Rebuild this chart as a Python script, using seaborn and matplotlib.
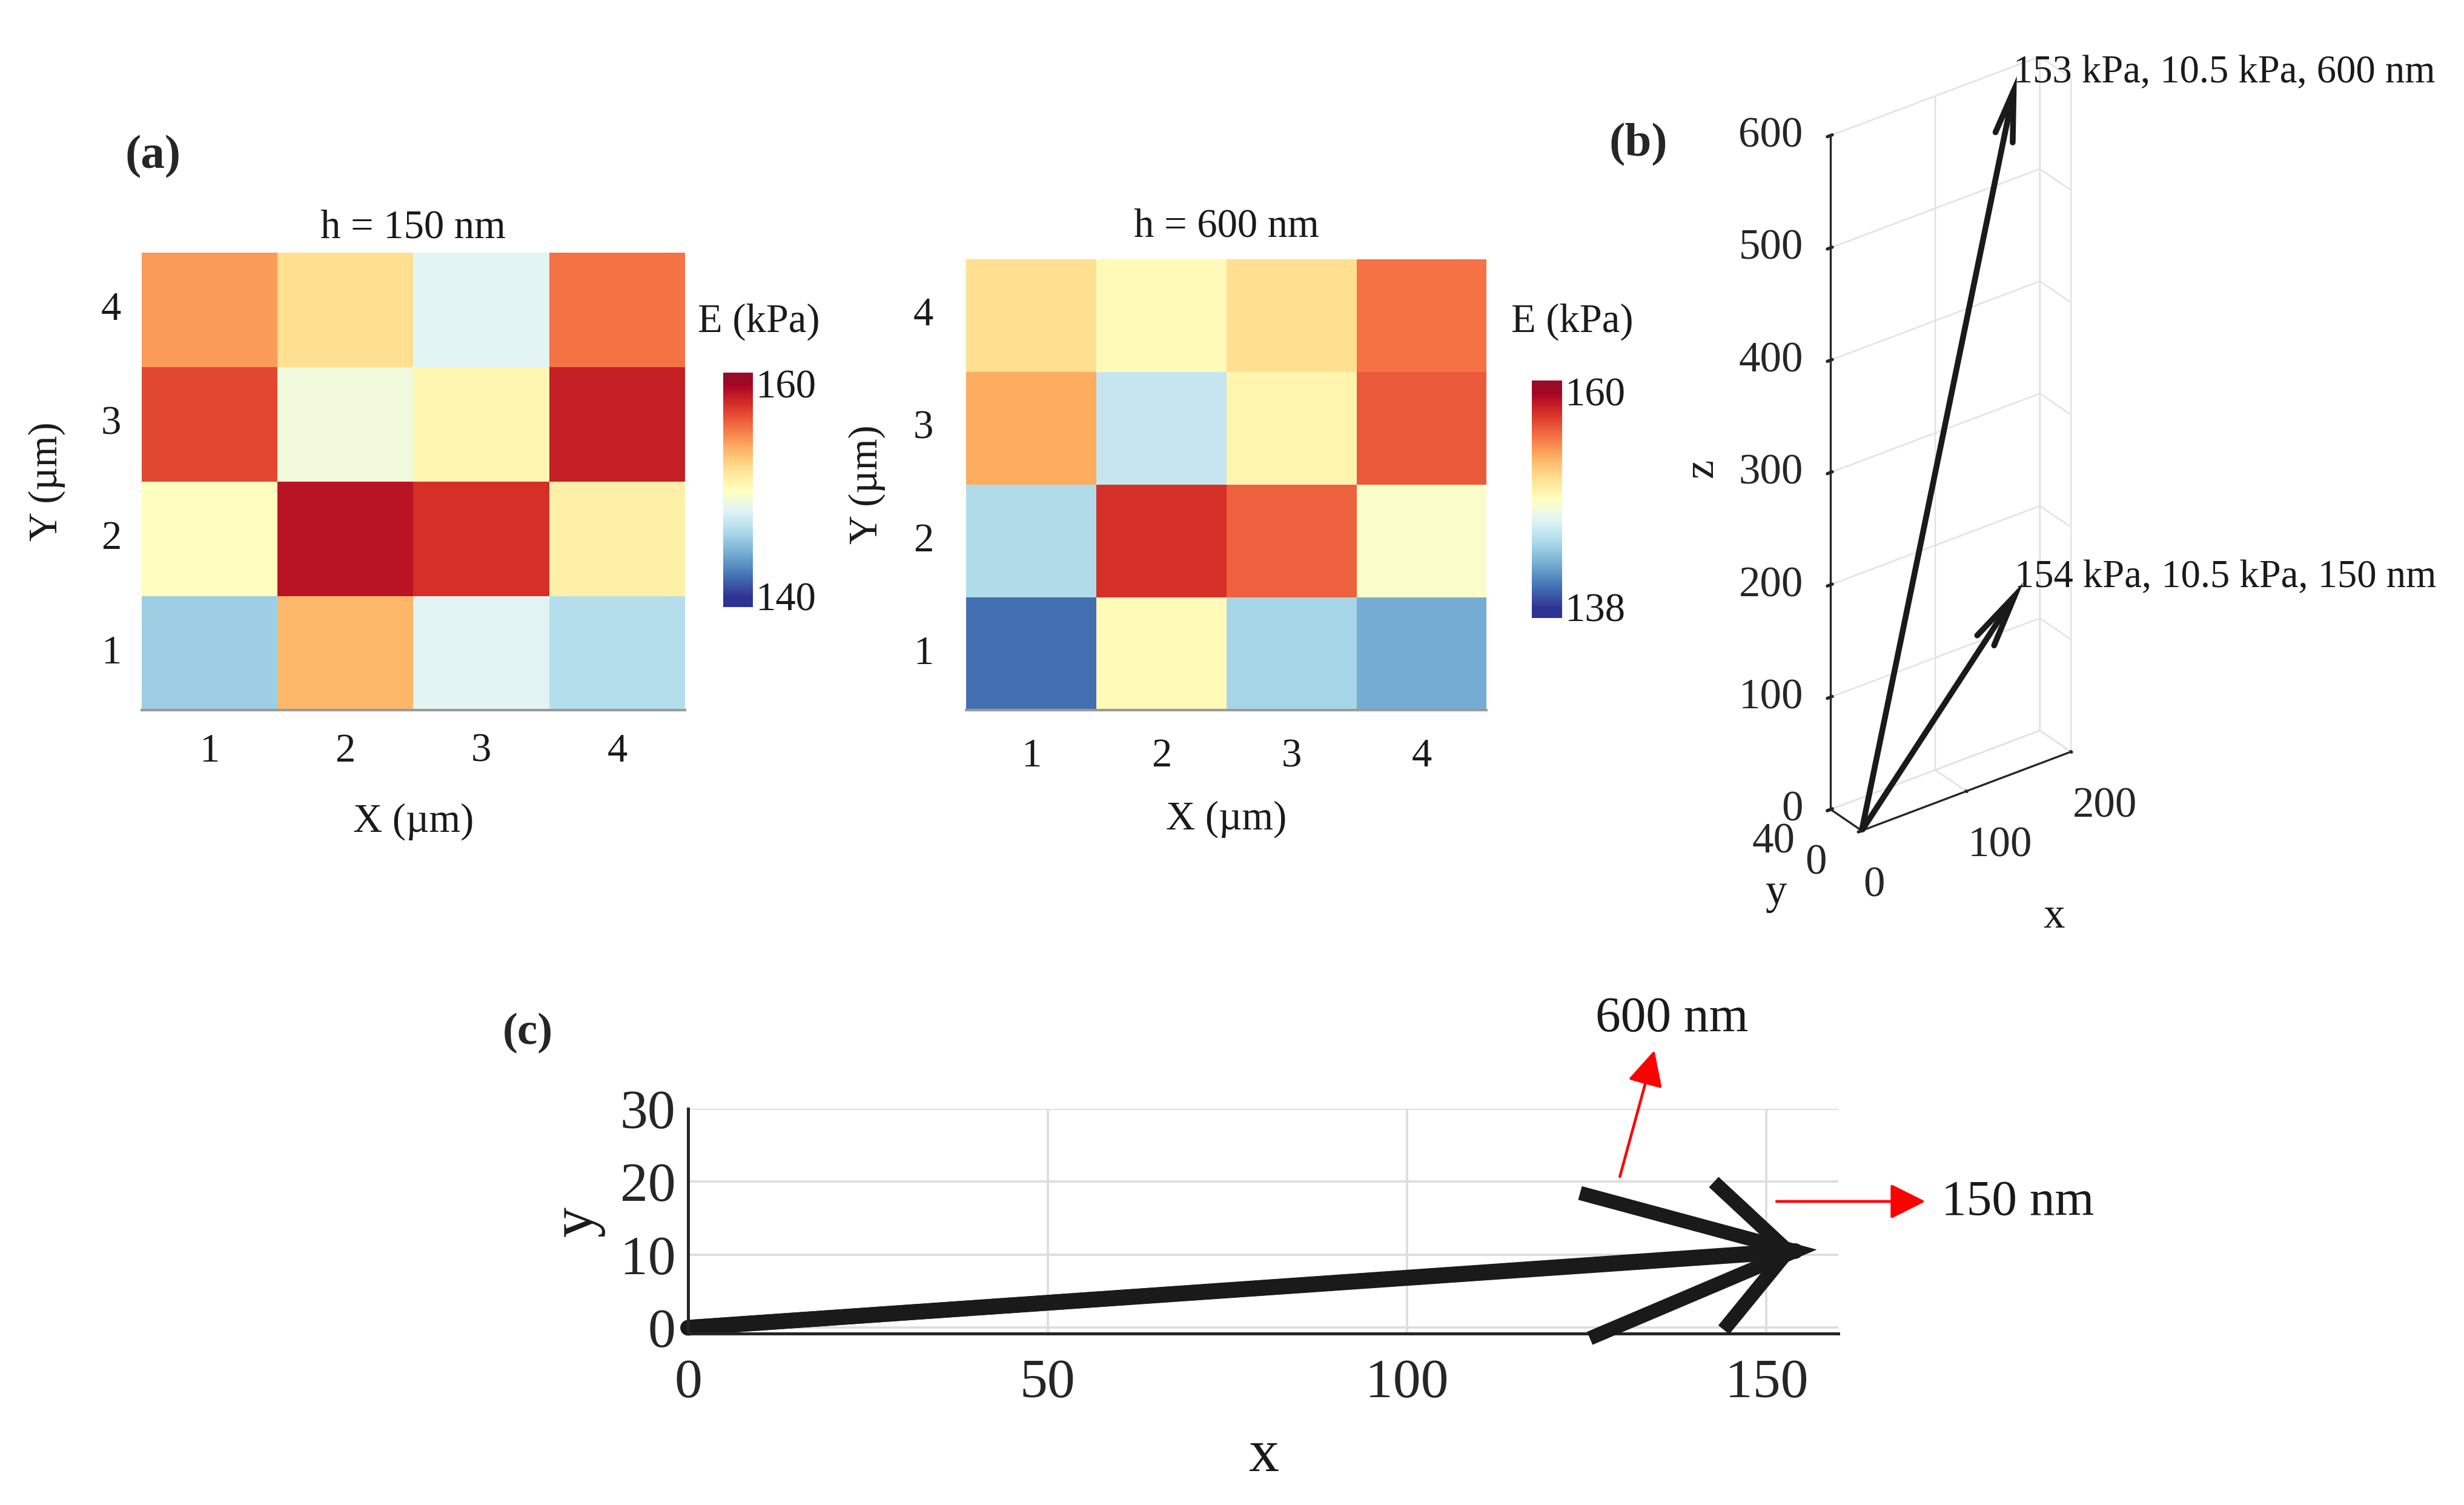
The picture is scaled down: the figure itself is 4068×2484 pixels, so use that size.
import warnings
import numpy as np
import pandas as pd
import matplotlib
matplotlib.use("Agg")
import matplotlib.pyplot as plt
import seaborn as sns
from mpl_toolkits.mplot3d import proj3d

warnings.filterwarnings("ignore")

# ---------------- data ----------------
x_labels = [1, 2, 3, 4]
y_labels = [4, 3, 2, 1]          # top row first
E_150 = [[154.6, 152.0, 148.2, 155.8],
         [157.2, 149.0, 150.6, 158.6],
         [150.0, 159.2, 158.0, 151.0],
         [145.5, 153.6, 148.2, 146.4]]
E_600 = [[151.2, 149.4, 151.2, 155.4],
         [153.4, 145.7, 149.7, 156.3],
         [144.8, 157.8, 156.0, 148.6],
         [140.0, 149.4, 144.4, 142.4]]
range_150 = [140, 160]
range_600 = [138, 160]

vec_E_mean = [154, 153]          # x component (kPa)
vec_E_std = [10.5, 10.5]         # y component (kPa)
vec_h = [150, 600]               # z component (nm)
vec_labels = ["154 kPa, 10.5 kPa, 150 nm", "153 kPa, 10.5 kPa, 600 nm"]
head_alpha = [0.19, 0.063]       # MATLAB-like head length factor
head_beta = [0.34, 1.05]         # MATLAB-like head width factor

# ---------------- style ----------------
sns.set_theme(style="white")
plt.rcParams["font.family"] = ["Liberation Serif", "DejaVu Serif"]
plt.rcParams["mathtext.fontset"] = "stix"
plt.rcParams["axes.unicode_minus"] = False
TXT = "#1a1a1a"

fig = plt.figure(figsize=(13.56, 8.28), dpi=300)
W, H = 1568.0, 957.0


def fx(px):
    return px / W


def fy(py):
    return 1 - py / H


def heat(ax_rect, cax_rect, data, rng, title, title_pad, ypad, xpad):
    ax = fig.add_axes(ax_rect)
    cax = fig.add_axes(cax_rect)
    df = pd.DataFrame(data, index=y_labels, columns=x_labels)
    cmap = sns.color_palette("RdYlBu_r", as_cmap=True).copy()
    cmap.set_over("#9b0a26")
    cmap.set_under("#2d3392")
    sns.heatmap(df, ax=ax, cmap=cmap, vmin=rng[0], vmax=rng[1], cbar_ax=cax,
                linewidths=0,
                cbar_kws=dict(ticks=rng, extend="both", extendrect=True,
                              extendfrac=0.05))
    cbar = ax.collections[0].colorbar
    cbar.outline.set_visible(False)
    cax.tick_params(length=0, labelsize=16, pad=1, colors=TXT)
    ax.tick_params(axis="y", length=0, labelsize=16, rotation=0, pad=ypad, colors=TXT)
    ax.tick_params(axis="x", length=0, labelsize=16, pad=xpad, colors=TXT)
    ax.set_title(title, fontsize=16, pad=title_pad, color=TXT)
    ax.spines["bottom"].set_visible(True)
    ax.spines["bottom"].set_color("#9a9a9a")
    ax.spines["bottom"].set_linewidth(1.0)
    return ax


axL = heat([0.0574, 0.528, 0.2207, 0.304], [0.2934, 0.5967, 0.0121, 0.1557],
           E_150, range_150, "h = 150 nm", 6, 8, 9)
axL.set_xlabel("X (µm)", fontsize=16, labelpad=13, color=TXT)
axL.set_ylabel("Y (µm)", fontsize=16, labelpad=14, color=TXT)

axR = heat([0.3922, 0.528, 0.2111, 0.2998], [0.6218, 0.5893, 0.0121, 0.1578],
           E_600, range_600, "h = 600 nm", 9, 13, 11)
axR.set_xlabel("X (µm)", fontsize=16, labelpad=10, color=TXT)
axR.set_ylabel("Y (µm)", fontsize=16, labelpad=11, color=TXT)

fig.text(0.308, 0.786, "E (kPa)", fontsize=16, ha="center", va="center", color=TXT)
fig.text(0.638, 0.786, "E (kPa)", fontsize=16, ha="center", va="center", color=TXT)
fig.text(0.062, 0.896, "(a)", fontsize=19, fontweight="bold", ha="center", va="center")
fig.text(0.665, 0.904, "(b)", fontsize=19, fontweight="bold", ha="center", va="center")
fig.text(0.2143, 0.3135, "(c)", fontsize=18, fontweight="bold", ha="center", va="center")


def head_pts(u, v, w, a, b):
    b1 = (u - a * (u + b * v), v - a * (v - b * u), w - a * w)
    b2 = (u - a * (u - b * v), v - a * (v + b * u), w - a * w)
    return b1, b2


# ---------------- panel (b): 3D ----------------
ax3 = fig.add_axes([0.612, 0.411, 0.35, 0.573], projection="3d")
ax3.set_facecolor("none")
ax3.set_proj_type("ortho")
ax3.view_init(elev=30.5, azim=-126.6)
ax3.set_box_aspect((200, 40, 600), zoom=0.93)
for axis in (ax3.xaxis, ax3.yaxis, ax3.zaxis):
    axis.set_pane_color((1, 1, 1, 0))
    axis.pane.set_edgecolor("#dcdcdc")
    axis._axinfo["grid"]["color"] = "#e2e2e2"
    axis._axinfo["grid"]["linewidth"] = 0.6
    axis.line.set_color("#262626")
    axis.line.set_linewidth(0.8)
# MATLAB-like tick label offsets: y labels along x, z labels along y
ax3.yaxis._axmask = lambda: [True, False, False]
ax3.zaxis._axmask = lambda: [False, True, False]

for u, v, w, a, b in zip(vec_E_mean, vec_E_std, vec_h, head_alpha, head_beta):
    ax3.plot([0, u], [0, v], [0, w], color="k", lw=2.3, solid_capstyle="butt")
    b1, b2 = head_pts(u, v, w, a, b)
    ax3.plot([b1[0], u, b2[0]], [b1[1], v, b2[1]], [b1[2], w, b2[2]],
             color="k", lw=2.3, solid_joinstyle="miter")

ax3.set_xlim(0, 200)
ax3.set_ylim(0, 40)
ax3.set_zlim(0, 600)
ax3.set_xticks([0, 100, 200])
ax3.set_yticks([0, 40])
ax3.set_zticks([0, 100, 200, 300, 400, 500, 600])
ax3.tick_params(labelsize=17, colors="#262626")
ax3.tick_params(axis="z", pad=150)
ax3.tick_params(axis="x", pad=1)
ax3.tick_params(axis="y", pad=22)
for t in ax3.get_zticklabels():
    t.set_horizontalalignment("right")
for t in ax3.get_yticklabels():
    t.set_horizontalalignment("right")
    t.set_verticalalignment("top")
for t in ax3.get_xticklabels():
    t.set_horizontalalignment("left")
fig.text(fx(1307), fy(583), "x", fontsize=17, ha="center", va="center", color=TXT)
fig.text(fx(1130), fy(568), "y", fontsize=17, ha="center", va="center", color=TXT)
fig.text(fx(1083), fy(298), "z", fontsize=17, ha="center", va="center",
         rotation=90, color=TXT)

# labels at the projected arrow tips (2D text, placed through the 3D projection)
fig.canvas.draw()
M = ax3.get_proj()
for u, v, w, lab in zip(vec_E_mean, vec_E_std, vec_h, vec_labels):
    x2, y2, _ = proj3d.proj_transform(u, v, w, M)
    ax3.text2D(x2, y2, lab, transform=ax3.transData, fontsize=15.5,
               ha="left", va="bottom", color=TXT)

# ---------------- panel (c): top view ----------------
axc = fig.add_axes([0.2793, 0.1139, 0.4668, 0.1494])
axc.set_facecolor("white")
for u, v, w, a, b in zip(vec_E_mean, vec_E_std, vec_h, head_alpha, head_beta):
    sns.lineplot(x=[0, u], y=[0, v], ax=axc, color="k", lw=6.2, sort=False,
                 estimator=None)
    b1, b2 = head_pts(u, v, w, a, b)
    axc.plot([b1[0], u, b2[0]], [b1[1], v, b2[1]], color="k", lw=5.6,
             solid_joinstyle="miter", solid_capstyle="butt", clip_on=False, zorder=3)
for ln in axc.lines:
    ln.set_clip_on(False)
axc.set_xlim(0, 160)
axc.set_ylim(-0.8, 30)
axc.set_xticks([0, 50, 100, 150])
axc.set_yticks([0, 10, 20, 30])
axc.grid(True, color="#dddddd", lw=0.9)
axc.set_axisbelow(True)
for s in ("top", "right"):
    axc.spines[s].set_visible(False)
for s in ("left", "bottom"):
    axc.spines[s].set_color("#262626")
    axc.spines[s].set_linewidth(1.2)
axc.tick_params(direction="in", length=5, width=1.0, labelsize=22, colors="#262626")
axc.tick_params(axis="x", pad=10)
axc.tick_params(axis="y", pad=5)
axc.set_xlabel("x", fontsize=24, labelpad=8, color=TXT)
axc.set_ylabel("y", fontsize=24, labelpad=6, color=TXT)

arrow_kw = dict(arrowstyle="-|>,head_length=0.6,head_width=0.3", color="red",
                lw=1.1, mutation_scale=20, shrinkA=0, shrinkB=0)
axc.annotate("", xy=(134.4, 38.0), xytext=(129.6, 20.7), arrowprops=arrow_kw,
             annotation_clip=False)
axc.annotate("", xy=(172.1, 17.3), xytext=(151.4, 17.3), arrowprops=arrow_kw,
             annotation_clip=False)
axc.text(136.8, 42.3, "600 nm", fontsize=20, ha="center", va="center",
         color=TXT, clip_on=False)
axc.text(174.3, 17.1, "150 nm", fontsize=20, ha="left", va="center",
         color=TXT, clip_on=False)

fig.savefig("out.png", dpi=300)
